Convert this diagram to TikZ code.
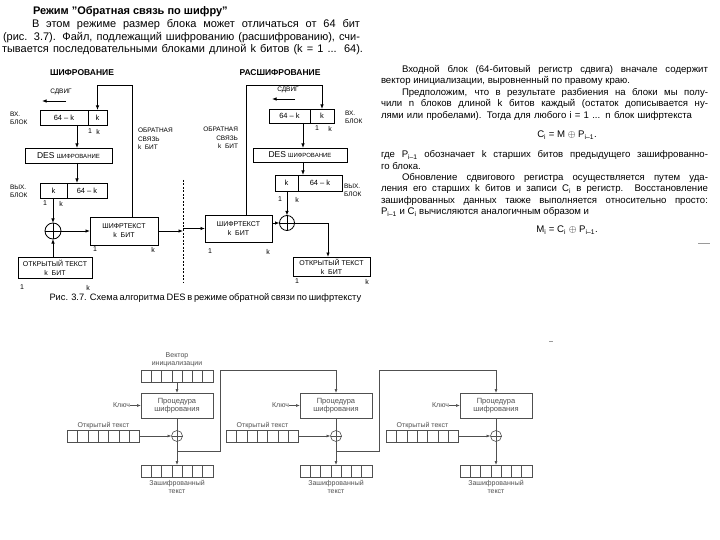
\documentclass[tikz,border=0pt]{standalone}
\usepackage{fontspec}
\setmainfont{Liberation Sans}
\usetikzlibrary{positioning,arrows.meta,calc}
\definecolor{ScanGray}{HTML}{505050}
\definecolor{ScanLight}{HTML}{9A9A9A}

\begin{document}
\begin{tikzpicture}[x=1pt,y=-1pt,
  every node/.style={inner sep=0pt,outer sep=0pt},
  para/.style={anchor=west,font=\fontsize{11}{12}\selectfont},
  col/.style={anchor=west,font=\fontsize{9.6}{11}\selectfont},
  ttl/.style={font=\bfseries\fontsize{8.5}{9}\selectfont},
  blk/.style={draw,line width=0.8pt,minimum height=15pt,font=\fontsize{7.5}{8}\selectfont},
  box/.style={draw,line width=0.8pt,align=center,font=\fontsize{7}{9}\selectfont},
  tag/.style={font=\fontsize{6.5}{8.5}\selectfont,align=left},
  bit/.style={font=\fontsize{7}{8}\selectfont,anchor=north},
  arr/.style={line width=0.8pt,-{Latex[length=4.5pt,width=3.5pt]}},
  ln/.style={line width=0.8pt},
  xorc/.style={draw,circle,line width=0.8pt,minimum size=16pt},
  proc/.style={draw=ScanGray,line width=0.6pt,minimum width=72pt,minimum height=25pt,align=center,font=\fontsize{7.5}{8.5}\selectfont,text=ScanGray},
  reg/.style={draw=ScanGray,line width=0.6pt,minimum width=72pt,minimum height=12pt,
    path picture={\foreach \k in {1,...,6}{\draw[ScanGray,line width=0.6pt] ([xshift=\k*10.2857pt]path picture bounding box.north west) -- ([xshift=\k*10.2857pt]path picture bounding box.south west);}}},
  gtxt/.style={font=\fontsize{7}{8}\selectfont,text=ScanGray,align=center},
  garr/.style={draw=ScanGray,line width=0.6pt,-{Latex[length=4pt,width=3pt]}},
  gln/.style={draw=ScanGray,line width=0.6pt},
  gxor/.style={draw=ScanGray,circle,line width=0.6pt,minimum size=11pt}]
  \useasboundingbox[fill=white] (0,0) rectangle (720,540);

  % header text
  \node[anchor=west,font=\bfseries\fontsize{11}{13}\selectfont] (head) at (33,12) {Режим "Обратная связь по шифру"};
  \node[para] (p1) at (32,25) {\makebox[328pt][s]{В этом режиме размер блока может отличаться от 64 бит}};
  \node[para] (p2) at (3,38) {\makebox[357pt][s]{(рис. 3.7). Файл, подлежащий шифрованию (расшифрованию), счи-}};
  \node[para] (p3) at (2,50) {\makebox[361pt][s]{тывается последовательными блоками длиной k битов (k = 1 ... 64).}};

  % right column
  \node[col] (r1) at (402,70) {\makebox[306pt][s]{Входной блок (64-битовый регистр сдвига) вначале содержит}};
  \node[col] (r2) at (381,81) {вектор инициализации, выровненный по правому краю.};
  \node[col] (r3) at (402,93) {\makebox[306pt][s]{Предположим, что в результате разбиения на блоки мы полу-}};
  \node[col] (r4) at (381,104) {\makebox[327pt][s]{чили n блоков длиной k битов каждый (остаток дописывается ну-}};
  \node[col] (r5) at (381,116) {\makebox[311pt][s]{лями или пробелами). Тогда для любого i = 1 ... n блок шифртекста}};
  \node[font=\fontsize{9.6}{11}\selectfont] (f1) at (567,135) {C\textsubscript{i} = M $\oplus$ P\textsubscript{i–1}.};
  \node[col] (r6) at (381,155) {\makebox[327pt][s]{где P\textsubscript{i–1} обозначает k старших битов предыдущего зашифрованно-}};
  \node[col] (r7) at (381,166) {го блока.};
  \node[col] (r8) at (402,178) {\makebox[306pt][s]{Обновление сдвигового регистра осуществляется путем уда-}};
  \node[col] (r9) at (381,189) {\makebox[327pt][s]{ления его старших k битов и записи C\textsubscript{i} в регистр. Восстановление}};
  \node[col] (r10) at (381,201) {\makebox[327pt][s]{зашифрованных данных также выполняется относительно просто:}};
  \node[col] (r11) at (381,212) {P\textsubscript{i–1} и C\textsubscript{i} вычисляются аналогичным образом и};
  \node[font=\fontsize{9.6}{11}\selectfont] (f2) at (567,230) {M\textsubscript{i} = C\textsubscript{i} $\oplus$ P\textsubscript{i–1}.};
  \draw[ScanLight,line width=0.6pt] (698,243) -- (710,243);
  \draw[ScanLight,line width=0.6pt] (549,341) -- (553,341);

  % encryption
  \node[ttl] (encTitle) at (82,73) {ШИФРОВАНИЕ};
  \node[tag] (encShift) at (61,92) {СДВИГ};
  \coordinate (encShiftR) at (66,101);
  \coordinate (encShiftL) at (42,101);
  \draw[arr] (encShiftR) -- (encShiftL);
  \node[blk,minimum width=48pt] (encInL) at (64,117.5) {64 -- k};
  \node[blk,minimum width=19pt,right=0pt of encInL] (encInR) {k};
  \node[tag,anchor=north west] (encInTag) at (10,112) {ВХ.\\БЛОК};
  \node[bit] (encIn1) at (90,129) {1};
  \node[bit] (encInK) at (98,129) {k};
  \node[box,minimum width=87pt,minimum height=15pt] (encDes) at (68.5,155.5) {{\fontsize{8.5}{9}\selectfont DES} {\fontsize{6}{7}\selectfont ШИФРОВАНИЕ}};
  \node[blk,minimum width=27pt] (encOutL) at (53.5,190.5) {k};
  \node[blk,minimum width=40pt,right=0pt of encOutL] (encOutR) {64 -- k};
  \node[tag,anchor=north west] (encOutTag) at (10,185) {ВЫХ.\\БЛОК};
  \node[bit] (encOut1) at (45,201) {1};
  \node[bit] (encOutK) at (61,201) {k};
  \coordinate (encCol) at (77,0);
  \draw[arr] (encInL.south -| encCol) -- (encDes.north -| encCol);
  \draw[arr] (encDes.south -| encCol) -- (encOutR.north -| encCol);
  \node[xorc] (encXor) at (53,231) {};
  \draw[ln] (encXor.north) -- (encXor.south) (encXor.west) -- (encXor.east);
  \draw[arr] (encOutL.south -| encXor) -- (encXor.north);
  \node[box,minimum width=74pt,minimum height=21pt] (encPt) at (55,267.5) {ОТКРЫТЫЙ ТЕКСТ\\k\ \ БИТ};
  \draw[arr] (encPt.north -| encXor) -- (encXor.south);
  \node[box,minimum width=68pt,minimum height=28pt] (encCt) at (124,231) {ШИФРТЕКСТ\\k\ \ БИТ};
  \draw[arr] (encXor.east) -- (encCt.west);
  \coordinate (sepTop) at (183,180);
  \coordinate (sepBot) at (183,282);
  \draw[arr] (encCt.east) -- (encCt.east -| sepTop);
  \coordinate (encFb) at (132,85);
  \draw[arr] (encCt.north -| encFb) -- (encFb) -| (encInR.north);
  \node[tag,anchor=north west] (encFbTag) at (138,128) {ОБРАТНАЯ\\СВЯЗЬ\\k\ \ БИТ};
  \node[bit] (encCt1) at (95,247) {1};
  \node[bit] (encCtK) at (153,247) {k};
  \node[bit] (encPt1) at (22,285) {1};
  \node[bit] (encPtK) at (88,285) {k};

  \draw[ln,dash pattern=on 2pt off 1.5pt] (sepTop) -- (sepBot);

  % decryption
  \node[ttl] (decTitle) at (280,73) {РАСШИФРОВАНИЕ};
  \node[tag] (decShift) at (288,90) {СДВИГ};
  \coordinate (decShiftR) at (295,99);
  \coordinate (decShiftL) at (272,99);
  \draw[arr] (decShiftR) -- (decShiftL);
  \node[blk,minimum width=41pt,minimum height=14pt] (decInL) at (289.5,116) {64 -- k};
  \node[blk,minimum width=24pt,minimum height=14pt,right=0pt of decInL] (decInR) {k};
  \node[tag,anchor=north west] (decInTag) at (345,111) {ВХ.\\БЛОК};
  \node[bit] (decIn1) at (317,126) {1};
  \node[bit] (decInK) at (330,126) {k};
  \node[box,minimum width=94pt,minimum height=14pt] (decDes) at (300,155) {{\fontsize{8.5}{9}\selectfont DES} {\fontsize{6}{7}\selectfont ШИФРОВАНИЕ}};
  \node[blk,minimum width=23pt,minimum height=16pt] (decOutL) at (286.5,183) {k};
  \node[blk,minimum width=44pt,minimum height=16pt,right=0pt of decOutL] (decOutR) {64 -- k};
  \node[tag,anchor=north west] (decOutTag) at (344,184) {ВЫХ.\\БЛОК};
  \node[bit] (decOut1) at (280,197) {1};
  \node[bit] (decOutK) at (297,197) {k};
  \coordinate (decCol) at (303,0);
  \draw[arr] (decInL.south -| decCol) -- (decDes.north -| decCol);
  \draw[arr] (decDes.south -| decCol) -- (decOutR.north -| decCol);
  \node[xorc,minimum size=15pt] (decXor) at (287,223) {};
  \draw[ln] (decXor.north) -- (decXor.south) (decXor.west) -- (decXor.east);
  \draw[arr] (decOutL.south -| decXor) -- (decXor.north);
  \node[box,minimum width=67pt,minimum height=27pt] (decCt) at (238.5,228.5) {ШИФРТЕКСТ\\k\ \ БИТ};
  \draw[arr] (decXor.west -| decCt.east) -- (decXor.west);
  \draw[arr] (decCt.west -| sepTop) -- (decCt.west);
  \node[box,minimum width=77pt,minimum height=19pt] (decPt) at (331.5,266.5) {ОТКРЫТЫЙ ТЕКСТ\\k\ \ БИТ};
  \coordinate (decOutCol) at (328,0);
  \draw[arr] (decXor.east) -- (decXor.east -| decOutCol) -- (decPt.north -| decOutCol);
  \coordinate (decFb) at (246,85);
  \draw[arr] (decCt.north -| decFb) -- (decFb) -| (decInR.north);
  \node[tag,anchor=north east,align=right] (decFbTag) at (238,127) {ОБРАТНАЯ\\СВЯЗЬ\\k\ \ БИТ};
  \node[bit] (decCt1) at (210,249) {1};
  \node[bit] (decCtK) at (268,249) {k};
  \node[bit] (decPt1) at (297,279) {1};
  \node[bit] (decPtK) at (367,279) {k};

  \node[font=\fontsize{9.3}{10}\selectfont] (cap) at (203,298) {\makebox[307pt][s]{Рис. 3.7. Схема алгоритма DES в режиме обратной связи по шифртексту}};

  % chained stages
  \node[reg] (iv) at (177,376) {};
  \node[gtxt,anchor=south] (ivl) at ([yshift=3pt]iv.north) {Вектор\\инициализации};
  \foreach \s/\cx in {1/177,2/336,3/496} {
    \node[proc] (proc\s) at (\cx,405.5) {Процедура\\шифрования};
    \node[gtxt,anchor=east] (key\s) at ([xshift=-11pt]proc\s.west) {Ключ};
    \draw[garr] (key\s) -- (proc\s);
    \node[reg] (pt\s) at (\cx-73.5,436) {};
    \node[gtxt,anchor=south] (ptl\s) at ([yshift=1.5pt]pt\s.north) {Открытый текст};
    \node[gxor] (xor\s) at (\cx,436) {};
    \draw[gln] (xor\s.north) -- (xor\s.south) (xor\s.west) -- (xor\s.east);
    \node[reg] (ct\s) at (\cx,471) {};
    \node[gtxt,anchor=north] (ctl\s) at ([yshift=-3pt]ct\s.south) {Зашифрованный\\текст};
    \draw[gln] (proc\s) -- (xor\s);
    \draw[garr] (pt\s) -- (xor\s);
    \draw[garr] (xor\s) -- (ct\s);
  }
  \draw[garr] (iv) -- (proc1);
  \foreach \s/\n in {1/2,2/3} {
    \coordinate (fb\s) at ($(xor\s.south)!0.42!(ct\s.north)$);
    \draw[garr] (fb\s) -- ++(43,0) |- (proc\n.north |- iv.north) -- (proc\n.north);
  }
\end{tikzpicture}
\end{document}
